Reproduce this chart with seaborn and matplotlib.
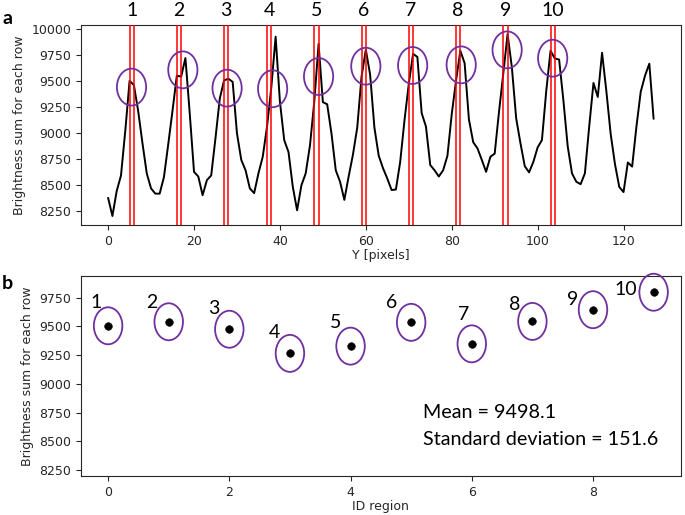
import numpy as np
import matplotlib
matplotlib.use("Agg")
import matplotlib.pyplot as plt
from matplotlib.patches import Ellipse
import matplotlib.transforms as mtransforms
import seaborn as sns

# --------------------------------
# Data
# --------------------------------
y_pixels = list(range(128))
brightness = [
    8375, 8200, 8440, 8590, 9020, 9500, 9460, 9210, 8900, 8610,
    8465, 8415, 8415, 8575, 8890, 9215, 9550, 9540, 9720, 9190,
    8625, 8580, 8400, 8545, 8590, 8950, 9330, 9505, 9520, 9490,
    8995, 8740, 8640, 8465, 8420, 8610, 8770, 9060, 9440, 9925,
    9300, 8930, 8815, 8480, 8255, 8495, 8610, 8880, 9300, 9855,
    9295, 9275, 8995, 8640, 8530, 8355, 8580, 8790, 9050, 9540,
    9800, 9560, 9050, 8780, 8660, 8560, 8450, 8455, 8720, 9120,
    9470, 9760, 9730, 9190, 9060, 8690, 8640, 8580, 8640, 8780,
    9180, 9500, 9790, 9670, 9130, 8910, 8850, 8740, 8625, 8770,
    8800, 9200, 9570, 9950, 9630, 9140, 8900, 8680, 8620, 8720,
    8860, 8930, 9400, 9790, 9715, 9705, 9310, 8870, 8610, 8530,
    8506, 8610, 9060, 9480, 9345, 9770, 9400, 8990, 8700, 8480,
    8430, 8715, 8675, 9060, 9395, 9550, 9665, 9135,
]

# first row of each selected region (the two red lines are start, start+1)
region_start = [5, 16, 27, 37, 48, 59, 70, 81, 92, 103]
region_labels = ["1", "2", "3", "4", "5", "6", "7", "8", "9", "10"]

# circled peaks in panel a
circle_x = [5.45, 17.4, 27.7, 38.3, 49.0, 60.0, 70.9, 82.2, 92.9, 103.5]
circle_y = [9440, 9606, 9430, 9424, 9542, 9641, 9648, 9654, 9798, 9718]

# panel b: mean brightness per region
region_id = list(range(10))
region_mean = [9505, 9540, 9475, 9265, 9328, 9535, 9348, 9543, 9645, 9797]

top_yticks = [8250, 8500, 8750, 9000, 9250, 9500, 9750, 10000]
top_xticks = [0, 20, 40, 60, 80, 100, 120]
bot_yticks = [8250, 8500, 8750, 9000, 9250, 9500, 9750]
bot_xticks = [0, 2, 4, 6, 8]

# label offsets (points) for the numbers in panel b
label_offsets = [(-9, 17), (-12, 14), (-11, 15), (-11, 15), (-11, 17),
                 (-14, 14), (-6, 21), (-13, 12), (-15, 7), (-20, 2)]

PURPLE = "#7030A0"
ANNOT_FONT = ["Lato", "DejaVu Sans"]

sns.set_style("ticks")
plt.rcParams["font.family"] = ["DejaVu Sans"]

fig = plt.figure(figsize=(6.85, 5.15), dpi=100)
ax1 = fig.add_axes([0.118, 0.563, 0.876, 0.388])
ax2 = fig.add_axes([0.118, 0.0757, 0.876, 0.389])

# --------------------------------
# Panel a
# --------------------------------
sns.lineplot(x=y_pixels, y=brightness, color="black", linewidth=1.4,
             ax=ax1, zorder=2)
for s in region_start:
    ax1.axvline(s, color="red", linewidth=1.1, zorder=3)
    ax1.axvline(s + 1, color="red", linewidth=1.1, zorder=3)

for cx, cy in zip(circle_x, circle_y):
    ax1.add_patch(Ellipse((cx, cy), 6.8, 355, fill=False, edgecolor=PURPLE,
                          linewidth=1.3, zorder=4))

trans = mtransforms.blended_transform_factory(ax1.transData, ax1.transAxes)
for s, lab in zip(region_start, region_labels):
    ax1.text(s + 0.5, 1.075, lab, transform=trans, ha="center", va="center",
             fontsize=14, family=ANNOT_FONT, color="black")

ax1.set_ylim(8113, 10035)
ax1.set_yticks(top_yticks)
ax1.set_xticks(top_xticks)
ax1.set_xlabel("Y [pixels]", fontsize=9, labelpad=1)
ax1.set_ylabel("Brightness sum for each row", fontsize=9)
ax1.tick_params(labelsize=9)

# --------------------------------
# Panel b
# --------------------------------
sns.scatterplot(x=region_id, y=region_mean, color="black", s=30,
                edgecolor="black", ax=ax2, zorder=3)
for xi, yi, lab, off in zip(region_id, region_mean, region_labels, label_offsets):
    ax2.add_patch(Ellipse((xi, yi), 0.47, 322, fill=False, edgecolor=PURPLE,
                          linewidth=1.3, zorder=4, clip_on=False))
    ax2.annotate(lab, (xi, yi), xytext=off, textcoords="offset points",
                 ha="center", va="center", fontsize=14, family=ANNOT_FONT,
                 color="black")

ax2.text(0.571, 0.315, "Mean = 9498.1", transform=ax2.transAxes,
         fontsize=14.2, family=ANNOT_FONT, va="center", ha="left",
         color="black")
ax2.text(0.571, 0.18, "Standard deviation = 151.6", transform=ax2.transAxes,
         fontsize=14.2, family=ANNOT_FONT, va="center", ha="left",
         color="black")

ax2.set_xlim(-0.45, 9.45)
ax2.set_ylim(8198, 9941)
ax2.set_yticks(bot_yticks)
ax2.set_xticks(bot_xticks)
ax2.set_xlabel("ID region", fontsize=9, labelpad=1)
ax2.set_ylabel("Brightness sum for each row", fontsize=9)
ax2.tick_params(labelsize=9)

fig.text(0.003, 0.965, "a", fontsize=14, fontweight="bold",
         family=ANNOT_FONT, va="center", color="black")
fig.text(0.003, 0.45, "b", fontsize=14, fontweight="bold",
         family=ANNOT_FONT, va="center", color="black")

fig.savefig("out.png", dpi=100)
